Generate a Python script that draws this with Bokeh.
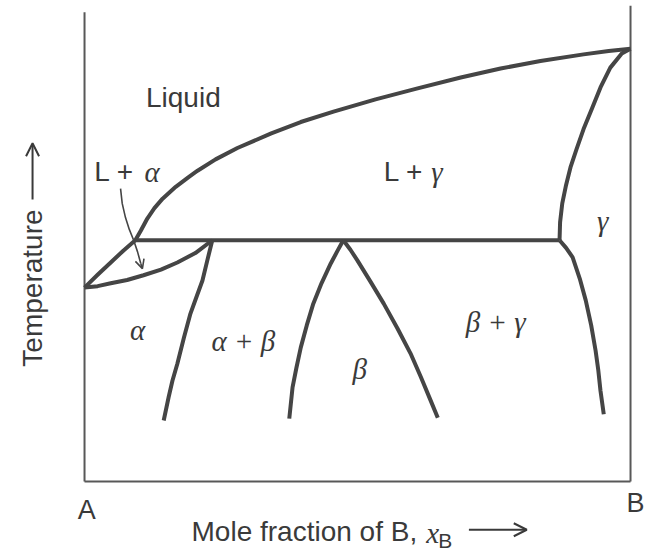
from bokeh.plotting import figure
from bokeh.models import Range1d, Label, Arrow, OpenHead
from bokeh.embed import file_html
from bokeh.resources import INLINE

# Binary phase diagram of A-B: composition x_B (0..1) vs temperature (arbitrary units 0..100)

# Liquidus: from the melting point of A, through the three-phase line, up to the melting point of B
liquidus_x = [0.0, 0.024, 0.048, 0.071, 0.093, 0.103, 0.115, 0.128, 0.143, 0.167, 0.190,
              0.207, 0.240, 0.280, 0.342, 0.396, 0.456, 0.533, 0.610, 0.689, 0.762,
              0.835, 0.914, 0.960, 1.0]
liquidus_t = [41.0, 43.7, 46.3, 48.8, 51.0, 53.0, 55.6, 57.8, 59.8, 62.3, 64.3,
              65.7, 68.1, 70.5, 73.6, 76.0, 78.2, 80.8, 83.1, 85.4, 87.3,
              88.9, 90.3, 91.0, 91.5]

# Solidus of gamma (B-rich side), down to the three-phase line
gamma_liquidus_x = [1.0, 0.984, 0.963, 0.945, 0.930, 0.914, 0.901, 0.890, 0.882, 0.875, 0.871, 0.870]
gamma_liquidus_t = [91.5, 90.5, 87.5, 83.3, 79.0, 74.5, 70.2, 66.4, 62.7, 58.8, 54.8, 51.0]

# Horizontal three-phase line
three_phase_x = [0.093, 0.870]
three_phase_t = [51.0, 51.0]

# Solidus of alpha (A-rich side)
alpha_solidus_x = [0.0, 0.024, 0.048, 0.078, 0.108, 0.140, 0.170, 0.203, 0.234]
alpha_solidus_t = [41.0, 41.3, 41.9, 42.6, 43.6, 44.8, 46.3, 48.3, 51.0]

# Solvus lines
alpha_solvus_x = [0.234, 0.225, 0.216, 0.205, 0.194, 0.182, 0.170, 0.161, 0.154, 0.145]
alpha_solvus_t = [51.0, 46.8, 42.5, 39.0, 35.5, 30.4, 24.9, 21.3, 17.8, 12.9]

beta_left_x = [0.474, 0.463, 0.451, 0.434, 0.419, 0.407, 0.396, 0.388, 0.381, 0.375]
beta_left_t = [51.0, 48.7, 46.1, 41.9, 37.6, 33.0, 28.3, 24.0, 19.9, 13.3]

beta_right_x = [0.474, 0.487, 0.500, 0.524, 0.548, 0.573, 0.597, 0.616, 0.634, 0.647]
beta_right_t = [51.0, 49.0, 46.7, 42.2, 37.6, 32.4, 27.1, 22.1, 17.1, 13.5]

gamma_solvus_x = [0.870, 0.882, 0.894, 0.907, 0.918, 0.928, 0.936, 0.941, 0.945, 0.951]
gamma_solvus_t = [51.0, 49.4, 47.4, 42.9, 38.3, 33.0, 27.7, 23.5, 19.2, 14.2]

# Pointer from the "L + alpha" label into its narrow two-phase field
pointer_x = [0.066, 0.069, 0.075, 0.082, 0.090, 0.097, 0.103]
pointer_t = [61.9, 58.8, 55.8, 53.3, 51.0, 48.6, 46.1]
pointer_tip = (0.106, 45.0)

# Frame of the diagram: pure A and pure B verticals and the temperature floor
x_pure_a, x_pure_b = 0.0, 1.0
t_floor = 0.0
t_top_a, t_top_b = 99.2, 100.6

# Phase-field labels
sans_labels = [("Liquid", 0.181, 81.2, "center"), ("L +", 0.018, 65.5, "left"),
               ("L +", 0.548, 65.5, "left")]
greek_labels = [("α", 0.110, 65.5, "left"), ("γ", 0.635, 65.5, "left"),
                ("γ", 0.949, 55.0, "center"), ("α", 0.097, 32.0, "center"),
                ("α + β", 0.291, 29.8, "center"), ("β", 0.504, 23.8, "center"),
                ("β + γ", 0.753, 33.8, "center")]

LINE = "#454545"
FRAME = "#585858"
TEXT = "#3a3a3a"
SANS = "Liberation Sans"
SERIF = "Liberation Serif"

# The plotting frame covers the whole canvas; axis titles sit inside the view range
p = figure(width=647, height=553, output_backend="svg", toolbar_location=None,
           x_range=Range1d(-0.1539, 1.0311), y_range=Range1d(-15.22, 101.69),
           x_axis_location=None, y_axis_location=None,
           min_border=0)
p.grid.visible = False
p.outline_line_color = None
p.background_fill_color = "white"
p.border_fill_color = "white"

p.segment(x0=[x_pure_a, x_pure_b, x_pure_a], y0=[t_floor, t_floor, t_floor],
          x1=[x_pure_a, x_pure_b, x_pure_b], y1=[t_top_a, t_top_b, t_floor],
          line_color=FRAME, line_width=2)

curves = [
    (liquidus_x, liquidus_t),
    (gamma_liquidus_x, gamma_liquidus_t),
    (three_phase_x, three_phase_t),
    (alpha_solidus_x, alpha_solidus_t),
    (alpha_solvus_x, alpha_solvus_t),
    (beta_left_x, beta_left_t),
    (beta_right_x, beta_right_t),
    (gamma_solvus_x, gamma_solvus_t),
]
for xs, ts in curves:
    p.line(xs, ts, line_color=LINE, line_width=4, line_join="round", line_cap="butt")

p.line(pointer_x, pointer_t, line_color=LINE, line_width=1.6)
p.add_layout(Arrow(end=OpenHead(size=9, line_color=LINE, line_width=1.6),
                   x_start=pointer_x[-1], y_start=pointer_t[-1],
                   x_end=pointer_tip[0], y_end=pointer_tip[1],
                   line_color=LINE, line_width=1.6))

for text, x, t, align in sans_labels:
    p.add_layout(Label(x=x, y=t, text=text, text_font=SANS, text_font_size="28px",
                       text_color=TEXT, text_align=align, text_baseline="middle"))
for text, x, t, align in greek_labels:
    p.add_layout(Label(x=x, y=t, text=text, text_font=SERIF, text_font_style="italic",
                       text_font_size="29px", text_color=TEXT, text_align=align,
                       text_baseline="middle"))

# Component names at the two ends of the composition axis
p.add_layout(Label(x=0.004, y=-6.0, text="A", text_font=SANS, text_font_size="27px",
                   text_color=TEXT, text_align="center", text_baseline="middle"))
p.add_layout(Label(x=1.009, y=-4.6, text="B", text_font=SANS, text_font_size="27px",
                   text_color=TEXT, text_align="center", text_baseline="middle"))

# Composition axis title: "Mole fraction of B, x_B" followed by an arrow
p.add_layout(Label(x=0.196, y=-10.6, text="Mole fraction of B,", text_font=SANS,
                   text_font_size="28px", text_color=TEXT, text_align="left",
                   text_baseline="middle"))
p.add_layout(Label(x=0.626, y=-10.9, text="x", text_font=SERIF, text_font_style="italic",
                   text_font_size="29px", text_color=TEXT, text_align="left",
                   text_baseline="middle"))
p.add_layout(Label(x=0.648, y=-12.4, text="B", text_font=SANS, text_font_size="21px",
                   text_color=TEXT, text_align="left", text_baseline="middle"))
p.add_layout(Arrow(end=OpenHead(size=13, line_color=TEXT, line_width=2),
                   x_start=0.704, y_start=-10.2, x_end=0.810, y_end=-10.2,
                   line_color=TEXT, line_width=2))

# Temperature axis title, rotated, with an upward arrow
p.add_layout(Label(x=-0.0952, y=40.9, text="Temperature", text_font=SANS,
                   text_font_size="28px", text_color=TEXT, text_align="center",
                   text_baseline="middle", angle=1.5708))
p.add_layout(Arrow(end=OpenHead(size=13, line_color=TEXT, line_width=2),
                   x_start=-0.0952, y_start=59.6, x_end=-0.0952, y_end=71.5,
                   line_color=TEXT, line_width=2))

open("out.html", "w").write(file_html(p, INLINE))
